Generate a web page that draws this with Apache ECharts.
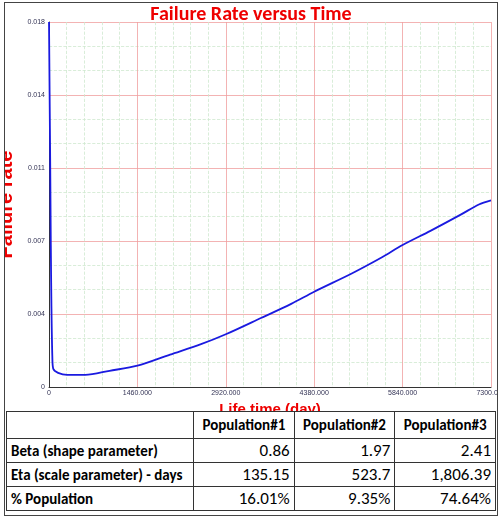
<!DOCTYPE html>
<html><head><meta charset="utf-8">
<script src="https://cdn.jsdelivr.net/npm/echarts@6/dist/echarts.min.js"></script>
<style>
body{margin:0;background:#fff;font-family:Calibri,"Liberation Sans",Arial,sans-serif;}
#wrap{position:absolute;left:4px;top:2px;width:494px;height:514px;border:1px solid #444;box-sizing:border-box;}
#chart{position:absolute;left:0;top:0;width:492px;height:408px;}
table{position:absolute;left:1px;top:408px;width:490px;border-collapse:collapse;font-size:15px;}
td{border:1.5px solid #333;height:23px;padding:0 4px;text-align:right;}
td.l{text-align:left;font-weight:bold;}
tr.h td{font-weight:bold;text-align:center;height:26px;}
</style></head><body>
<div id="wrap"><div id="chart"></div>
<table>
<tr class="h"><td style="width:178px"></td><td id="h1"></td><td id="h2"></td><td id="h3"></td></tr>
</table></div>
<script>
var days = [0,10,20,30,40,55,70,150,300,600,1000,1460,2000,2500,2920,3500,4000,4380,5000,5500,5840,6300,6800,7100,7300];
var rate = [0.018,0.0145,0.011,0.007,0.004,0.0015,0.0009,0.0007,0.0006,0.0006,0.0008,0.00105,0.0016,0.0021,0.0026,0.0034,0.0041,0.0047,0.0056,0.0064,0.0070,0.0077,0.0085,0.0090,0.0092];
var popNames = ['Population#1','Population#2','Population#3'];
var rowNames = ['Beta (shape parameter)','Eta (scale parameter) - days','% Population'];
var rowValues = [['0.86','1.97','2.41'],['135.15','523.7','1,806.39'],['16.01%','9.35%','74.64%']];

var tbl = document.querySelector('table');
popNames.forEach(function(n,i){document.getElementById('h'+(i+1)).textContent=n;});
rowNames.forEach(function(r,i){
    var tr=document.createElement('tr');
    tr.innerHTML='<td class="l">'+r+'</td>'+rowValues[i].map(function(v){return '<td style="font-size:17px">'+v+'</td>';}).join('');
    tbl.appendChild(tr);
});

var myChart = echarts.init(document.getElementById('chart'));
var lbl = {fontSize:7,color:'#335'};
option = {
    title:{text:'Failure Rate versus Time',left:'center',top:-3,textStyle:{color:'#e00',fontSize:20,fontWeight:'bold',fontFamily:'Calibri,Liberation Sans,Arial'}},
    grid:{left:44,right:6,top:19,bottom:24,containLabel:false,outerBoundsMode:'none'},
    xAxis:{type:'value',min:0,max:7300,interval:1460,
        name:'Life time (day)',nameLocation:'middle',nameGap:15,
        nameTextStyle:{color:'#e00',fontSize:15,fontWeight:'bold'},
        axisLabel:Object.assign({formatter:function(v){return v===0?'0':v.toFixed(3);},margin:3},lbl),
        axisLine:{lineStyle:{color:'#333'}},axisTick:{show:false},
        splitLine:{lineStyle:{color:'#f0a0a0',width:0.8}},
        minorTick:{show:false,splitNumber:5},
        minorSplitLine:{show:true,lineStyle:{color:'#cfe8cf',type:'dashed',width:0.8}}},
    yAxis:{type:'value',min:0,max:0.018,interval:0.0036,
        name:'Failure rate',nameLocation:'middle',nameGap:28,
        nameTextStyle:{color:'#e00',fontSize:20,fontWeight:'bold'},
        axisLabel:Object.assign({formatter:function(v){return v===0?'0':v.toFixed(3);},margin:4},lbl),
        axisLine:{show:true,lineStyle:{color:'#333'}},axisTick:{show:false},
        splitLine:{lineStyle:{color:'#f0a0a0',width:0.8}},
        minorTick:{show:false,splitNumber:3},
        minorSplitLine:{show:true,lineStyle:{color:'#cfe8cf',type:'dashed',width:0.8}}},
    series:[{type:'line',data:days.map(function(d,i){return [d,rate[i]];}),
        smooth:0.3,showSymbol:false,lineStyle:{color:'#1a1ae0',width:1.8}}]
};
myChart.setOption(option);
</script></body></html>
